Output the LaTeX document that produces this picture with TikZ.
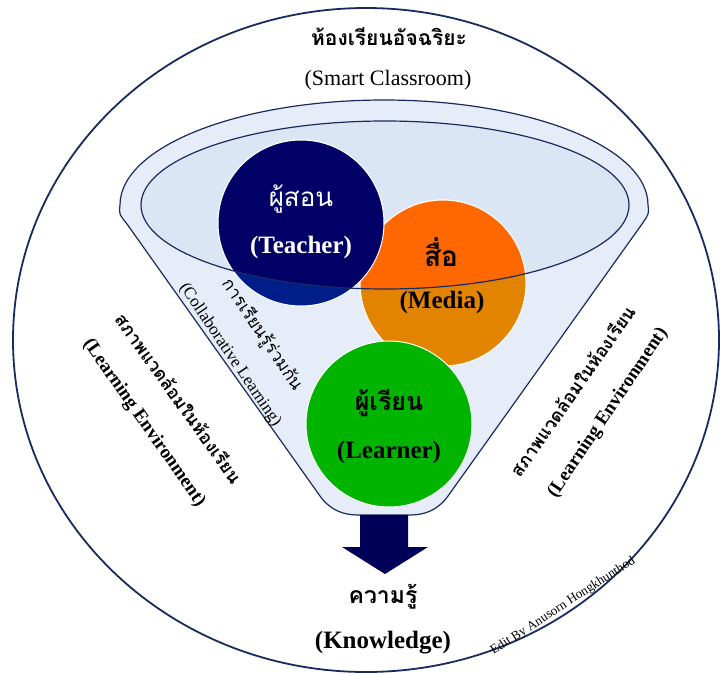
\documentclass[tikz,border=0pt]{standalone}
\usepackage{fontspec}
\setmainfont{Liberation Serif}
\newfontfamily\thaifont[Script=Thai]{Loma}
\definecolor{rimblue}{RGB}{27,42,94}
\definecolor{funnelfill}{RGB}{230,236,248}
\definecolor{bowlfill}{RGB}{219,230,245}
\definecolor{teachtop}{RGB}{0,0,102}
\definecolor{teachlow}{RGB}{0,30,138}
\definecolor{mediatop}{RGB}{255,104,0}
\definecolor{medialow}{RGB}{226,132,0}
\definecolor{learngreen}{RGB}{0,180,0}
\definecolor{arrownavy}{RGB}{0,0,88}

\begin{document}
\begin{tikzpicture}[x=1pt,y=-1pt,
  ball/.style={circle,draw=white,line width=1pt,minimum size=166pt,inner sep=0pt},
  bowl/.style={x radius=244,y radius=84},
  thai big/.style={font=\thaifont\bfseries\fontsize{23}{26}\selectfont},
  en big/.style={font=\bfseries\fontsize{25}{30}\selectfont},
  side thai/.style={font=\thaifont\bfseries\fontsize{18}{22}\selectfont},
  side en/.style={font=\bfseries\fontsize{19}{22}\selectfont},
  collab thai/.style={font=\thaifont\fontsize{17.5}{20}\selectfont},
  collab en/.style={font=\fontsize{17}{20}\selectfont}]

  \useasboundingbox (0,0) rectangle (720,673);

  % classroom
  \draw[rimblue,line width=1.8pt,fill=white] (366,340) ellipse [x radius=353,y radius=332];

  % funnel body
  \coordinate (rimL) at (120,205);
  \coordinate (spout) at (384,515);
  \coordinate (bowlC) at (385,205);
  \draw[rimblue,line width=1.2pt,fill=funnelfill]
    (rimL) arc [start angle=180,end angle=360,x radius=264,y radius=105]
    .. controls (649,214) .. (642,224) -- (448,496)
    .. controls (438,510) and (425,515) .. (410,515) -- (358,515)
    .. controls (343,515) and (330,510) .. (320,496)
    -- (127,224) .. controls (119,214) .. (rimL) -- cycle;
  \fill[bowlfill] (bowlC) ellipse [bowl];

  % the three parts
  \node[ball,fill=medialow] (M) at (443,283) {};
  \node[ball,fill=teachlow] (T) at (301,223) {};
  \node[ball,fill=learngreen] (L) at (389,424) {};
  \begin{scope}
    \clip (bowlC) ellipse [bowl];
    \filldraw[fill=mediatop,draw=white,line width=1pt] (M) circle [radius=83];
    \filldraw[fill=teachtop,draw=white,line width=1pt] (T) circle [radius=83];
  \end{scope}
  \draw[rimblue,line width=1.2pt] (bowlC) ellipse [bowl];

  % knowledge arrow
  \fill[arrownavy] (spout) ++(-24,0) -- ++(48,0) -- ++(0,32) -- ++(20,0)
    -- (385,574) -- (342,547) -- (360,547) -- cycle;

  % labels
  \node[thai big,font=\thaifont\bfseries\fontsize{21}{26}\selectfont] (title) at (389,37) {ห้องเรียนอัจฉริยะ};
  \node[font=\fontsize{22}{26}\selectfont] (titleEn) at (388,80) {(Smart Classroom)};
  \node[text=white,font=\thaifont\fontsize{26}{30}\selectfont] (tTH) at (301,199) {ผู้สอน};
  \node[en big,text=white] (tEN) at (301,247) {(Teacher)};
  \node[font=\thaifont\bfseries\fontsize{28}{30}\selectfont] (mTH) at (441,252) {สื่อ};
  \node[en big] (mEN) at (442,302) {(Media)};
  \node[thai big,font=\thaifont\bfseries\fontsize{25}{28}\selectfont] (lTH) at (389,403) {ผู้เรียน};
  \node[en big] (lEN) at (389,452) {(Learner)};
  \node[thai big] (kTH) at (383,597) {ความรู้};
  \node[en big] (kEN) at (383,643) {(Knowledge)};

  \node[collab thai,rotate=-56] (cTH) at (262,335) {การเรียนรู้ร่วมกัน};
  \node[collab en,rotate=-56] (cEN) at (230,355) {(Collaborative Learning)};
  \node[side thai,rotate=-54.5] (envLth) at (179,398) {สภาพแวดล้อมในห้องเรียน};
  \node[side en,rotate=-55] (envLen) at (144,423) {(Learning Environment)};
  \node[side thai,rotate=55] (envRth) at (572,391) {สภาพแวดล้อมในห้องเรียน};
  \node[side en,rotate=56] (envRen) at (608,413) {(Learning Environment)};
  \node[font=\fontsize{13}{15}\selectfont,rotate=33] (credit) at (563,606) {Edit By Anusorn Hongkhunthod};
\end{tikzpicture}
\end{document}
